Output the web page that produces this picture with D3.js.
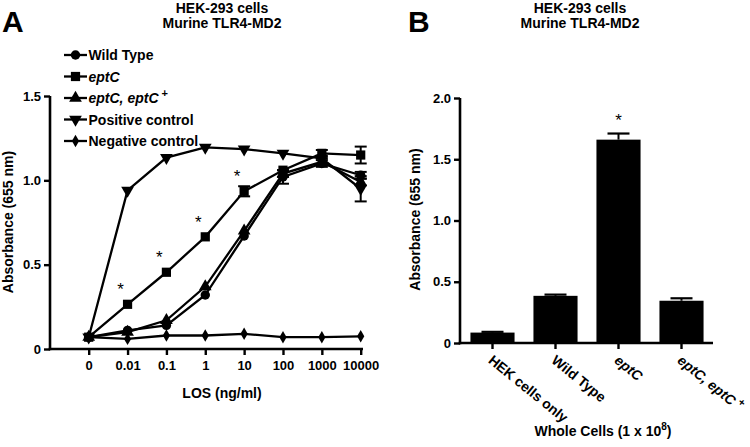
<!DOCTYPE html>
<html><head><meta charset="utf-8">
<script src="https://cdn.jsdelivr.net/npm/d3@7"></script>
<style>body{margin:0;background:#fff}svg{display:block;font-family:"Liberation Sans",Arial,sans-serif;font-weight:bold}</style>
</head><body><svg id="c" width="750" height="447"></svg>
<script>
// ---- Panel A data ----
const losCats = ["0","0.01","0.1","1","10","100","1000","10000"];
const wildType = [0.07,0.11,0.14,0.32,0.67,1.02,1.10,1.03];
const eptC     = [0.07,0.265,0.455,0.665,0.935,1.06,1.16,1.15];
const eptCcomp = [0.07,0.10,0.17,0.37,0.70,1.04,1.11,0.99];
const posCtrl  = [0.07,0.94,1.135,1.195,1.185,1.16,1.13,0.95];
const negCtrl  = [0.07,0.06,0.08,0.08,0.09,0.07,0.07,0.075];
const wildTypeErr = [0,0,0,0,0,0.04,0.02,0.02];
const eptCErr     = [0,0,0,0,0.03,0,0.02,0.05];
const eptCcompErr = [0,0,0,0,0,0.02,0.02,0.02];
const posCtrlErr  = [0,0,0,0,0,0,0,0.075];
const negCtrlErr  = [0,0,0,0,0,0,0,0];
const starIdxA = [1,2,3,4];
const yTicksA = [0,0.5,1.0,1.5];
const yTickLabelsA = ["0","0.5","1.0","1.5"];
// ---- Panel B data ----
const cellCats = ["HEK cells only","Wild Type","eptC","eptC, eptC+"];
const cellVals = [0.085,0.385,1.66,0.345];
const cellErr  = [0.006,0.01,0.05,0.02];
const yTicksB = [0,0.5,1.0,1.5,2.0];
const yTickLabelsB = ["0","0.5","1.0","1.5","2.0"];

const svg = d3.select("#c");
const stroke = "#000";

// ===== Panel A =====
const xA = d3.scalePoint().domain(losCats).range([88.7,360.7]);
const yA = d3.scaleLinear().domain([0,1.5]).range([349,96]);
const gA = svg.append("g");

gA.append("line").attr("x1",50).attr("x2",50).attr("y1",yA(1.5)).attr("y2",yA(0)+1.2).attr("stroke",stroke).attr("stroke-width",2.6);
gA.append("line").attr("x1",48.7).attr("x2",363).attr("y1",yA(0)).attr("y2",yA(0)).attr("stroke",stroke).attr("stroke-width",2.6);
const yAx = gA.append("g").attr("transform","translate(50,0)")
  .call(d3.axisLeft(yA).tickValues(yTicksA).tickFormat((d,i)=>yTickLabelsA[i]).tickSize(6).tickSizeOuter(0).tickPadding(3));
const xAx = gA.append("g").attr("transform",`translate(0,${yA(0)})`)
  .call(d3.axisBottom(xA).tickSize(6).tickSizeOuter(0).tickPadding(6));
[yAx,xAx].forEach(a=>{a.select(".domain").remove();a.selectAll(".tick line").attr("stroke-width",2.4);a.selectAll("text").attr("font-size",13).attr("font-weight","bold").attr("font-family","Liberation Sans, Arial, sans-serif").attr("fill","#000");});

const seriesA = [
  {name:"Wild Type", vals:wildType, err:wildTypeErr, sym:d3.symbolCircle, size:70, rot:0},
  {name:"eptC", vals:eptC, err:eptCErr, sym:d3.symbolSquare, size:85, rot:0},
  {name:"eptC, eptC+", vals:eptCcomp, err:eptCcompErr, sym:d3.symbolTriangle, size:70, rot:0},
  {name:"Positive control", vals:posCtrl, err:posCtrlErr, sym:d3.symbolTriangle, size:70, rot:180},
  {name:"Negative control", vals:negCtrl, err:negCtrlErr, sym:d3.symbolDiamond, size:45, rot:0}
];
const line = d3.line().x((d,i)=>xA(losCats[i])).y(d=>yA(d));
seriesA.forEach(s=>{
  const g = gA.append("g");
  g.append("path").attr("d",line(s.vals)).attr("fill","none").attr("stroke",stroke).attr("stroke-width",2.3);
  s.vals.forEach((v,i)=>{
    const e = s.err[i];
    if(e>0){
      const x = xA(losCats[i]);
      g.append("line").attr("x1",x).attr("x2",x).attr("y1",yA(v+e)).attr("y2",yA(v-e)).attr("stroke",stroke).attr("stroke-width",2);
      [v+e,v-e].forEach(t=>g.append("line").attr("x1",x-6).attr("x2",x+6).attr("y1",yA(t)).attr("y2",yA(t)).attr("stroke",stroke).attr("stroke-width",2));
    }
    g.append("path").attr("d",d3.symbol().type(s.sym).size(s.size)())
      .attr("transform",`translate(${xA(losCats[i])},${yA(v)}) rotate(${s.rot})`).attr("fill",stroke);
  });
});
starIdxA.forEach(i=>{
  gA.append("text").attr("x",xA(losCats[i])-7).attr("y",yA(eptC[i])-9).attr("text-anchor","middle")
    .attr("font-size",17).attr("font-weight","normal").text("*");
});
const legY = [55,76.5,98,119.5,141];
seriesA.forEach((s,k)=>{
  const y = legY[k];
  gA.append("line").attr("x1",64).attr("x2",87).attr("y1",y).attr("y2",y).attr("stroke",stroke).attr("stroke-width",2.3);
  gA.append("path").attr("d",d3.symbol().type(s.sym).size(s.size)()).attr("transform",`translate(75.5,${y}) rotate(${s.rot})`).attr("fill",stroke);
  const t = gA.append("text").attr("x",88.5).attr("y",y+5).attr("font-size",14);
  if(s.name==="eptC"){t.append("tspan").attr("font-style","italic").text("eptC");}
  else if(s.name==="eptC, eptC+"){
    t.append("tspan").attr("font-style","italic").text("eptC, eptC");
    t.append("tspan").attr("dy",-6).attr("font-size",11).text(" +");
  } else t.text(s.name);
});
gA.append("text").attr("x",222).attr("y",12.5).attr("text-anchor","middle").attr("font-size",14).text("HEK-293 cells");
gA.append("text").attr("x",222).attr("y",28).attr("text-anchor","middle").attr("font-size",14).text("Murine TLR4-MD2");
gA.append("text").attr("x",2).attr("y",32).attr("font-size",30).text("A");
gA.append("text").attr("x",222).attr("y",398).attr("text-anchor","middle").attr("font-size",14).text("LOS (ng/ml)");
gA.append("text").attr("transform","translate(12.5,222) rotate(-90)").attr("text-anchor","middle").attr("font-size",14).text("Absorbance (655 nm)");

// ===== Panel B =====
const xB = d3.scaleBand().domain(cellCats).range([461,713]).paddingInner(0.3).paddingOuter(0.15);
const yB = d3.scaleLinear().domain([0,2]).range([343,98]);
const gB = svg.append("g");
gB.selectAll("rect.bar").data(cellVals).enter().append("rect")
  .attr("x",(d,i)=>xB(cellCats[i])).attr("width",xB.bandwidth())
  .attr("y",d=>yB(d)).attr("height",d=>yB(0)-yB(d)).attr("fill",stroke);
cellVals.forEach((v,i)=>{
  const cx = xB(cellCats[i])+xB.bandwidth()/2, e = cellErr[i];
  gB.append("line").attr("x1",cx).attr("x2",cx).attr("y1",yB(v)).attr("y2",yB(v+e)).attr("stroke",stroke).attr("stroke-width",2);
  gB.append("line").attr("x1",cx-11).attr("x2",cx+11).attr("y1",yB(v+e)).attr("y2",yB(v+e)).attr("stroke",stroke).attr("stroke-width",2.2);
});
gB.append("line").attr("x1",460).attr("x2",460).attr("y1",yB(2)).attr("y2",yB(0)+1.3).attr("stroke",stroke).attr("stroke-width",2.6);
gB.append("line").attr("x1",458.7).attr("x2",713).attr("y1",yB(0)).attr("y2",yB(0)).attr("stroke",stroke).attr("stroke-width",2.6);
const yBx = gB.append("g").attr("transform","translate(460,0)")
  .call(d3.axisLeft(yB).tickValues(yTicksB).tickFormat((d,i)=>yTickLabelsB[i]).tickSize(6).tickSizeOuter(0).tickPadding(3));
const xBx = gB.append("g").attr("transform",`translate(0,${yB(0)})`)
  .call(d3.axisBottom(xB).tickSize(6).tickSizeOuter(0).tickFormat(""));
[yBx,xBx].forEach(a=>{a.select(".domain").remove();a.selectAll(".tick line").attr("stroke-width",2.4);a.selectAll("text").attr("font-size",13).attr("font-weight","bold").attr("font-family","Liberation Sans, Arial, sans-serif").attr("fill","#000");});
cellCats.forEach((c,i)=>{
  const cx = xB(c)+xB.bandwidth()/2;
  const t = gB.append("text").attr("transform",`translate(${cx-5},${yB(0)+19}) rotate(39)`).attr("font-size",14);
  if(c==="eptC"){t.append("tspan").attr("font-style","italic").text("eptC");}
  else if(c==="eptC, eptC+"){
    t.append("tspan").attr("font-style","italic").text("eptC, eptC");
    t.append("tspan").attr("dy",-6).attr("font-size",11).text(" +");
  } else t.text(c);
});
gB.append("text").attr("x",xB("eptC")+xB.bandwidth()/2).attr("y",yB(cellVals[2]+cellErr[2])-8).attr("text-anchor","middle").attr("font-size",17).attr("font-weight","normal").text("*");
gB.append("text").attr("x",580).attr("y",12.5).attr("text-anchor","middle").attr("font-size",14).text("HEK-293 cells");
gB.append("text").attr("x",580).attr("y",28).attr("text-anchor","middle").attr("font-size",14).text("Murine TLR4-MD2");
gB.append("text").attr("x",408).attr("y",32).attr("font-size",30).text("B");
const xt = gB.append("text").attr("x",603).attr("y",436).attr("text-anchor","middle").attr("font-size",14);
xt.append("tspan").text("Whole Cells (1 x 10");
xt.append("tspan").attr("dy",-6).attr("font-size",10).text("8");
xt.append("tspan").attr("dy",6).text(")");
gB.append("text").attr("transform","translate(420,219.5) rotate(-90)").attr("text-anchor","middle").attr("font-size",14).text("Absorbance (655 nm)");
</script></body></html>
